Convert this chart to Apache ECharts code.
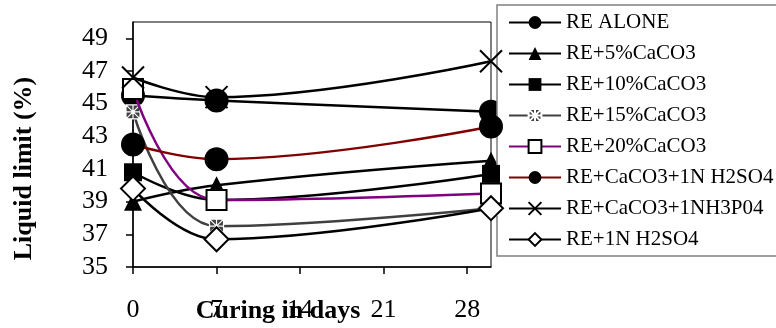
<!DOCTYPE html>
<html>
<head>
<meta charset="utf-8">
<script src="https://cdn.jsdelivr.net/npm/echarts@6/dist/echarts.min.js"></script>
<style>
html,body{margin:0;padding:0;background:#fff;}
#c{width:776px;height:328px;}
</style>
</head>
<body>
<div id="c"></div>
<script>
var days = [0, 7, 30];
var xTicks = [0, 7, 14, 21, 28];
var yTicks = [35, 37, 39, 41, 43, 45, 47, 49];
var seriesNames = ['RE ALONE', 'RE+5%CaCO3', 'RE+10%CaCO3', 'RE+15%CaCO3', 'RE+20%CaCO3', 'RE+CaCO3+1N H2SO4', 'RE+CaCO3+1NH3P04', 'RE+1N H2SO4'];
var reAlone = [45.5, 45.2, 44.5];
var re5 = [39.0, 40.0, 41.5];
var re10 = [40.8, 39.1, 40.7];
var re15 = [44.5, 37.5, 38.6];
var re20 = [45.9, 39.1, 39.5];
var reCaH2SO4 = [42.5, 41.6, 43.6];
var reCaH3PO4 = [46.6, 45.4, 47.6];
var reH2SO4 = [39.8, 36.7, 38.6];

var allValues = [reAlone, re5, re10, re15, re20, reCaH2SO4, reCaH3PO4, reH2SO4];
var lineColors = ['#000', '#000', '#000', '#404040', '#800080', '#800000', '#000', '#000'];
var symbols = ['circle', 'triangle', 'rect',
  'path://M0,0H10V10H0Z M0,0L10,10 M10,0L0,10 M5,0L5,10 M0,5L10,5',
  'rect', 'circle', 'path://M0,0L10,10M10,0L0,10', 'diamond'];
var symSizes = [24, 18, 18, 14, 20, 24, 22, 24];
var fills = ['#000', '#000', '#000', '#404040', '#fff', '#000', '#000', '#fff'];
var borders = ['#000', '#000', '#000', '#fff', '#000', '#000', '#000', '#000'];
var borderW = [0, 0, 0, 1.2, 2, 0, 2, 2];

function pairs(vals) {
  return days.map(function (d, i) { return [d, vals[i]]; });
}

var series = allValues.map(function (vals, i) {
  return {
    name: seriesNames[i],
    type: 'line',
    smooth: 0.4,
    data: pairs(vals),
    symbol: symbols[i],
    symbolSize: symSizes[i],
    lineStyle: { color: lineColors[i], width: 2.5 },
    itemStyle: { color: fills[i], borderColor: borders[i], borderWidth: borderW[i] },
    emphasis: { disabled: true },
    animation: false,
    z: 2 + i
  };
});

var chart = echarts.init(document.getElementById('c'), null, { renderer: 'canvas' });
chart.setOption({
  animation: false,
  backgroundColor: '#fff',
  textStyle: { fontFamily: 'Liberation Serif', color: '#000' },
  grid: { left: 133, top: 22, right: 285, bottom: 61, outerBoundsMode: 'none', containLabel: false, show: true, borderColor: '#000', borderWidth: 1, backgroundColor: 'transparent' },
  xAxis: {
    type: 'value', min: 0, max: 30,
    name: 'Curing in days', nameLocation: 'middle', nameGap: 31, nameMoveOverlap: false,
    nameTextStyle: { fontFamily: 'Liberation Serif', fontWeight: 'bold', fontSize: 26, color: '#000', padding: [0, 68, 0, 0], verticalAlign: 'top' },
    axisLine: { show: true, lineStyle: { color: '#000', width: 1.5 } },
    axisTick: { show: true, length: 7, inside: false, customValues: xTicks, lineStyle: { color: '#000', width: 1.5 } },
    axisLabel: { customValues: xTicks, fontSize: 26, color: '#000', fontFamily: 'Liberation Serif', margin: 30 },
    splitLine: { show: false }
  },
  yAxis: {
    type: 'value', min: 35, max: 50,
    name: 'Liquid limit (%)', nameLocation: 'middle', nameGap: 96, nameMoveOverlap: false,
    nameTextStyle: { fontFamily: 'Liberation Serif', fontWeight: 'bold', fontSize: 26, color: '#000', padding: [0, 48, 0, 0] },
    axisLine: { show: true, lineStyle: { color: '#000', width: 1.5 } },
    axisTick: { show: true, length: 7, inside: false, customValues: yTicks, lineStyle: { color: '#000', width: 1.5 } },
    axisLabel: { customValues: yTicks, fontSize: 26, color: '#000', fontFamily: 'Liberation Serif', margin: 25 },
    splitLine: { show: false }
  },
  legend: {
    orient: 'vertical',
    left: 497, top: 5,
    padding: [7, 30, 6, 11],
    itemWidth: 52, itemHeight: 16, itemGap: 10,
    backgroundColor: '#fff',
    borderColor: '#808080', borderWidth: 1.5,
    textStyle: { fontFamily: 'Liberation Serif', fontSize: 21, color: '#000' },
    data: seriesNames
  },
  series: series
});
</script>
</body>
</html>
